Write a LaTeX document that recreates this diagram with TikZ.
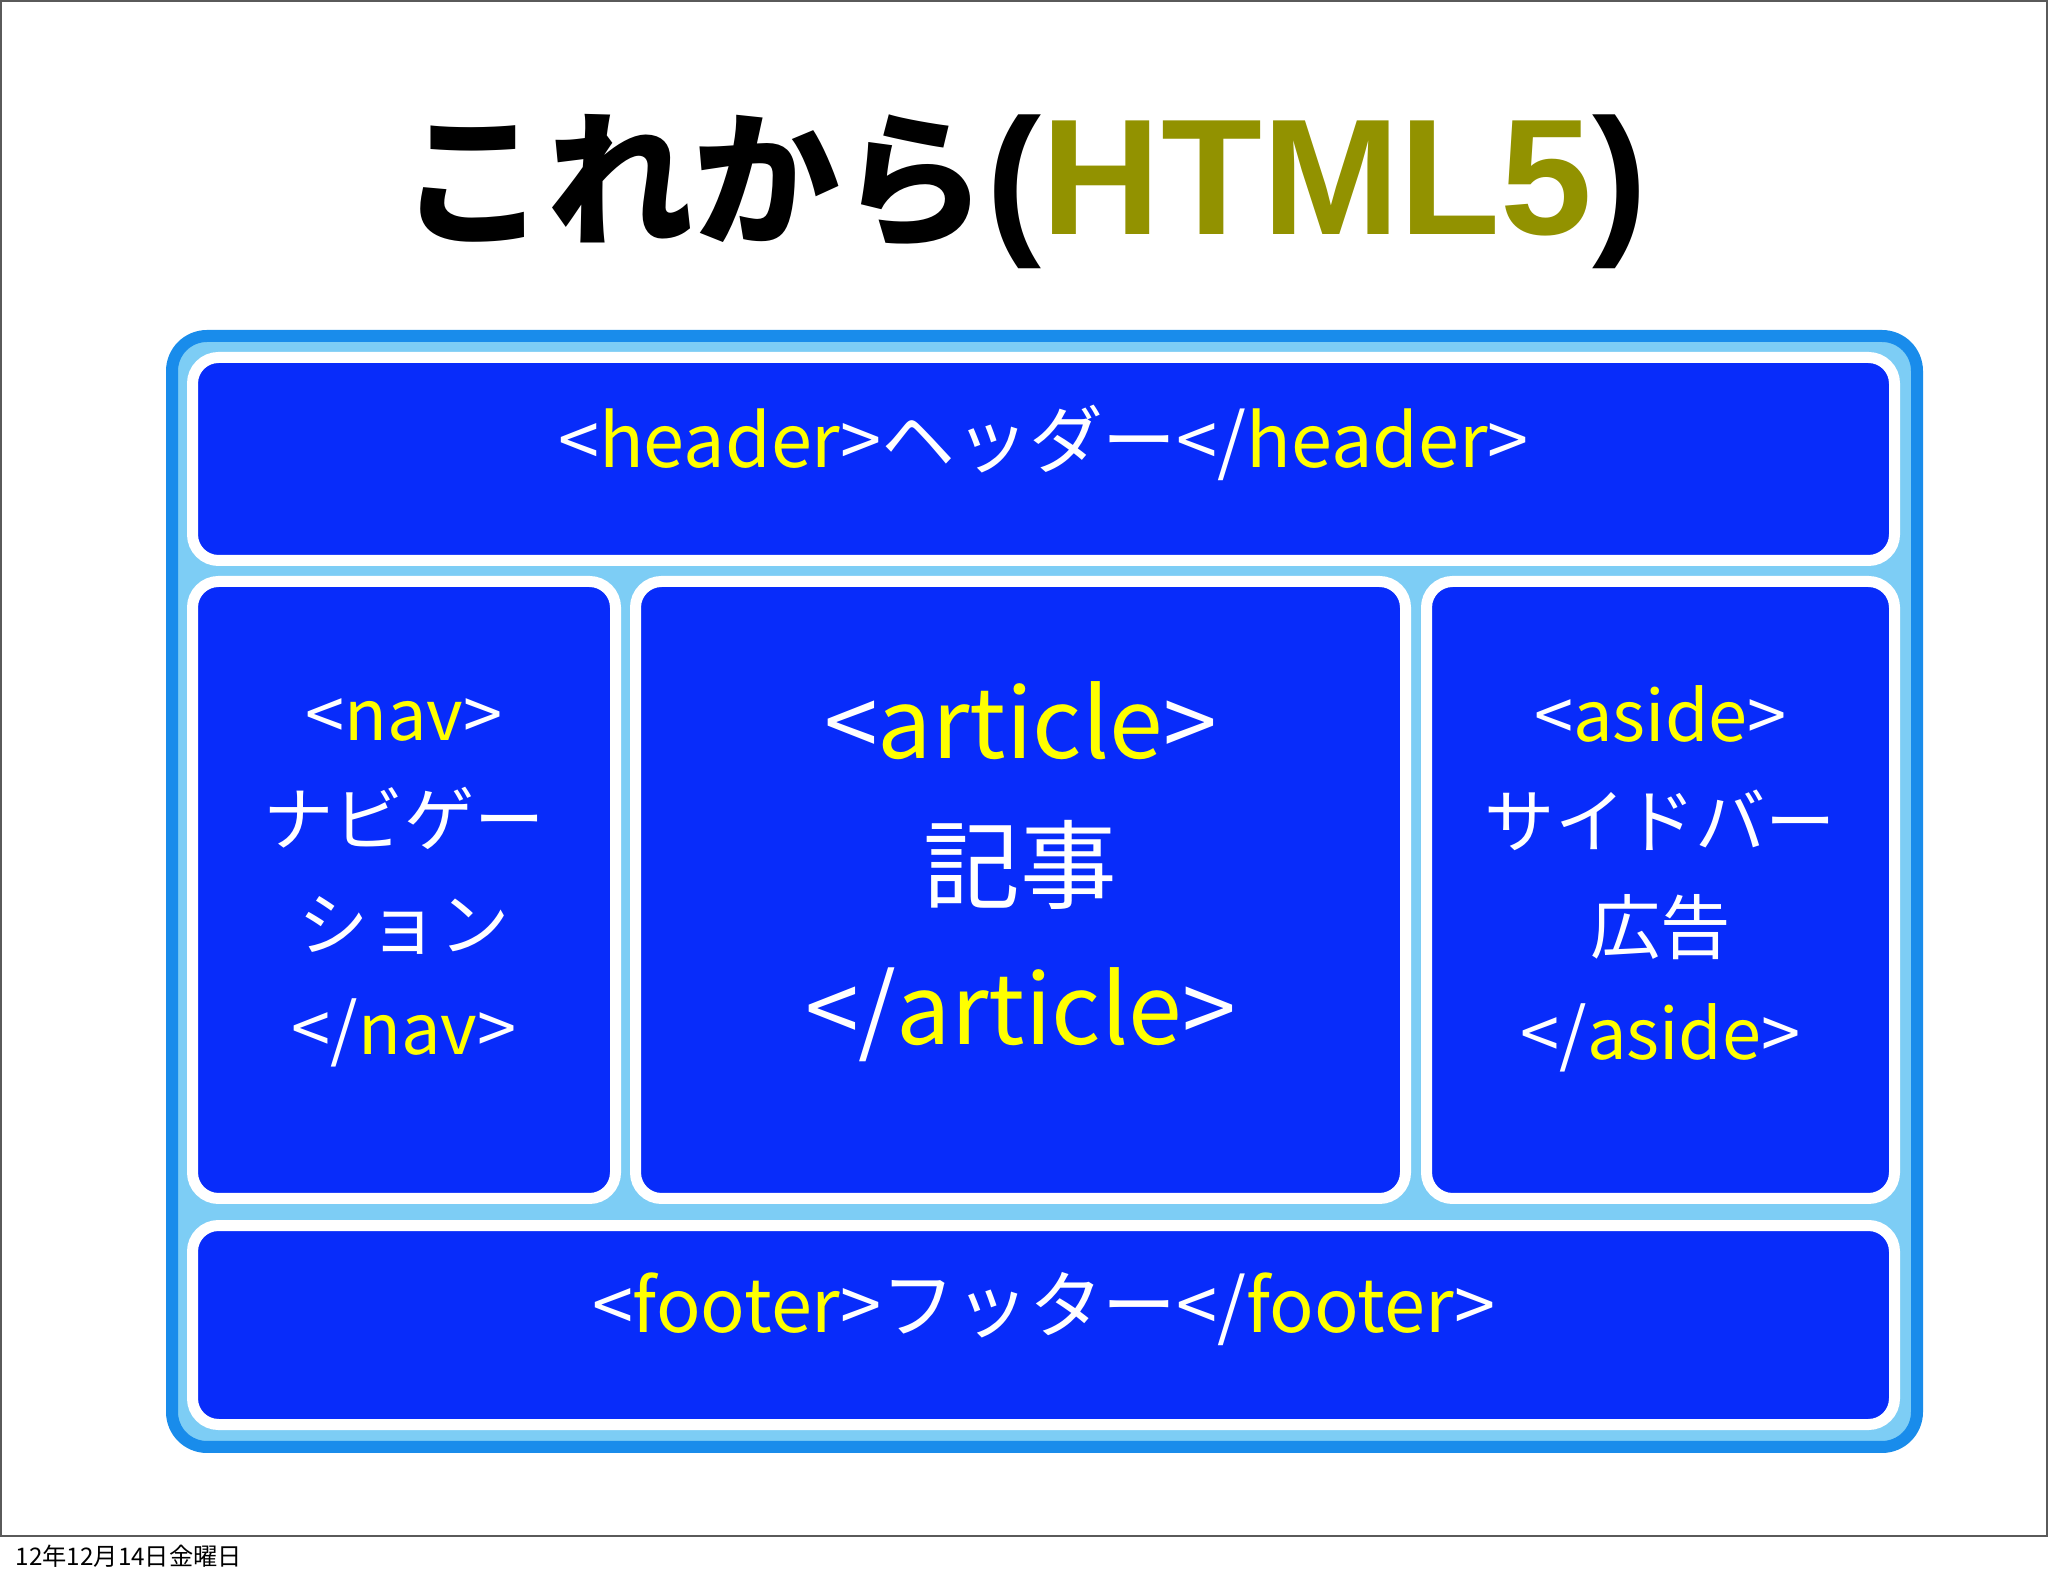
\documentclass[tikz,border=0pt]{standalone}
\usepackage{fontspec}
\usepackage{graphicx}
\newfontfamily\jp{Noto Sans CJK JP}
\newfontfamily\hv{Liberation Sans}
\definecolor{paneblue}{RGB}{8,44,250}
\definecolor{trayband}{RGB}{125,205,245}
\definecolor{trayrim}{RGB}{25,140,235}
\definecolor{tagyellow}{RGB}{255,255,0}
\definecolor{htmlolive}{RGB}{146,146,0}
\definecolor{slideedge}{RGB}{90,90,90}
\newcommand{\tg}[1]{\textcolor{tagyellow}{#1}}

\tikzset{
  tray/.style={draw=trayrim, fill=trayband, line width=1.2mm, rounded corners=3.5mm, inner sep=0pt, anchor=north west},
  pane/.style={draw=white, fill=paneblue, line width=1.1mm, rounded corners=2.6mm, inner sep=0pt, anchor=north west},
  panetext/.style={align=center, text=white, inner sep=0pt},
}

\begin{document}
\begin{tikzpicture}[x=0.1mm, y=-0.1mm]
\useasboundingbox (0,0) rectangle (2048,1576);
% slide frame
\draw[slideedge, line width=0.25mm] (1,1) rectangle (2047,1536);

% title
\node[anchor=base, inner sep=0pt] (title) at (1024,235) {{\jp\bfseries\fontsize{41.7}{42}\selectfont これから}{\hv\bfseries\fontsize{47}{47}\selectfont (\textcolor{htmlolive}{HTML5})}};

% outer tray
\node[tray, minimum width=174.5mm, minimum height=111.1mm] (tray) at (166,330) {};

% header and footer
\node[pane, minimum width=170.2mm, minimum height=20.3mm] (header) at (187,352) {};
\node[pane, minimum width=170.2mm, minimum height=19.9mm] (footer) at (187,1220) {};

% middle row
\node[pane, minimum width=42.3mm, minimum height=61.7mm] (nav) at (187,576) {};
\node[pane, minimum width=77mm, minimum height=61.7mm] (article) at (630,576) {};
\node[pane, minimum width=46.8mm, minimum height=61.7mm] (aside) at (1421,576) {};

% texts
\node[panetext, font=\jp\fontsize{21}{21}\selectfont] (headertext) at ([yshift=1.6mm]header.center) {<\tg{header}>ヘッダー</\tg{header}>};
\node[panetext, font=\jp\fontsize{21}{21}\selectfont] (footertext) at ([yshift=1.6mm]footer.center) {<\tg{footer}>フッター</\tg{footer}>};
\node[panetext, font=\jp\fontsize{20}{29.8}\selectfont] (navtext) at ([yshift=0.7mm]nav.center) {<\tg{nav}>\\ナビゲー\\ション\\</\tg{nav}>};
\node[panetext, font=\jp\fontsize{27.5}{40.7}\selectfont] (articletext) at ([yshift=1.8mm]article.center) {<\tg{article}>\\記事\\</\tg{article}>};
\node[panetext, font=\jp\fontsize{20}{30.2}\selectfont] (asidetext) at ([yshift=1.1mm]aside.center) {<\tg{aside}>\\サイドバー\\広告\\</\tg{aside}>};

% date
\node[anchor=base west, inner sep=0pt, font=\jp\fontsize{6.9}{8}\selectfont] (date) at (15,1565) {12年12月14日金曜日};
\end{tikzpicture}
\end{document}
